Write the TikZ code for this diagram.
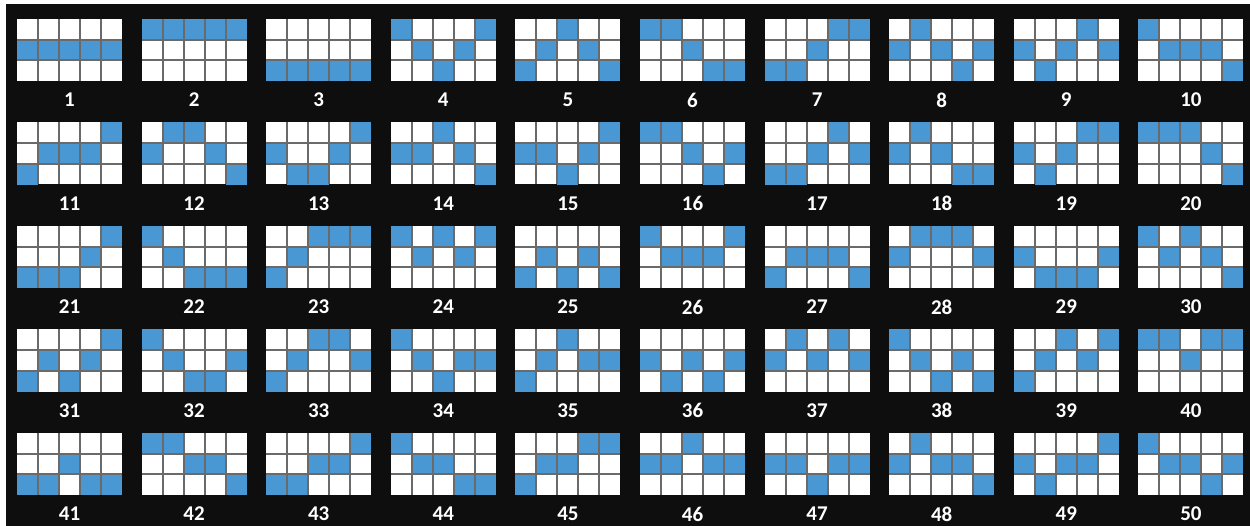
\documentclass[tikz,border=0pt]{standalone}
\usepackage{fontspec}
\setmainfont{Carlito}
\definecolor{slotblue}{HTML}{4A98D3}
\definecolor{cellline}{HTML}{6A6A6A}
\definecolor{backdrop}{HTML}{0E0E0E}
\begin{document}
\begin{tikzpicture}[x=1pt,y=-1pt,
  lbl/.style={text=white, font=\fontsize{21}{21}\selectfont\bfseries, inner sep=0pt},
  cellgrid/.style={cellline, line width=2pt}]
\fill[white] (0,0) rectangle (1250,526);
\fill[backdrop] (6,4) rectangle (1250,526);
\useasboundingbox (0,0) rectangle (1250,526);
% number / row of the marked cell in each of the five reels (1 top, 3 bottom)
\foreach \n/\a/\b/\c/\d/\e in {
  1/2/2/2/2/2, 2/1/1/1/1/1, 3/3/3/3/3/3, 4/1/2/3/2/1, 5/3/2/1/2/3,
  6/1/1/2/3/3, 7/3/3/2/1/1, 8/2/1/2/3/2, 9/2/3/2/1/2, 10/1/2/2/2/3,
  11/3/2/2/2/1, 12/2/1/1/2/3, 13/2/3/3/2/1, 14/2/2/1/2/3, 15/2/2/3/2/1,
  16/1/1/2/3/2, 17/3/3/2/1/2, 18/2/1/2/3/3, 19/2/3/2/1/1, 20/1/1/1/2/3,
  21/3/3/3/2/1, 22/1/2/3/3/3, 23/3/2/1/1/1, 24/1/2/1/2/1, 25/3/2/3/2/3,
  26/1/2/2/2/1, 27/3/2/2/2/3, 28/2/1/1/1/2, 29/2/3/3/3/2, 30/1/2/1/2/3,
  31/3/2/3/2/1, 32/1/2/3/3/2, 33/3/2/1/1/2, 34/1/2/3/2/2, 35/3/2/1/2/2,
  36/2/3/2/3/2, 37/2/1/2/1/2, 38/1/2/3/2/3, 39/3/2/1/2/1, 40/1/1/2/1/1,
  41/3/3/2/3/3, 42/1/1/2/2/3, 43/3/3/2/2/1, 44/1/2/2/3/3, 45/3/2/2/1/1,
  46/2/2/1/2/2, 47/2/2/3/2/2, 48/2/1/2/2/3, 49/2/3/2/2/1, 50/1/2/2/3/2}{
  \pgfmathsetmacro\gx{17+124.6*mod(\n-1,10)}
  \pgfmathsetmacro\gy{19+103.5*div(\n-1,10)}
  \begin{scope}[shift={(\gx,\gy)}]
    \fill[white] (0,0) rectangle (105,62);
    \foreach \rr [count=\cc from 0] in {\a,\b,\c,\d,\e}
      \fill[slotblue] (21*\cc,20.67*\rr-20.67) rectangle ++(21,20.67);
    \foreach \i in {1,...,4} \draw[cellgrid] (21*\i,0) -- (21*\i,62);
    \foreach \j in {1,2} \draw[cellgrid] (0,20.67*\j) -- (105,20.67*\j);
    \node[lbl] (line\n) at (52.5,81) {\n};
  \end{scope}
}
\end{tikzpicture}
\end{document}
